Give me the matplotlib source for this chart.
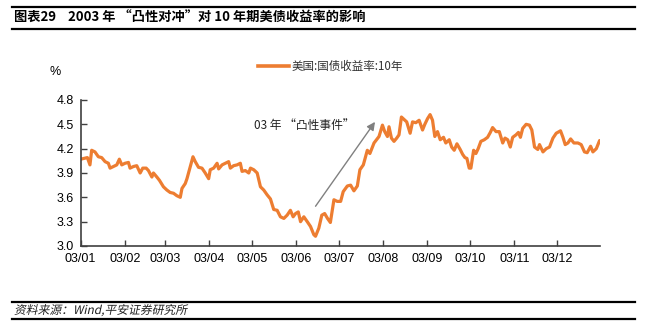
import numpy as np
import pandas as pd
import matplotlib
matplotlib.use("Agg")
import matplotlib.pyplot as plt
from matplotlib.lines import Line2D
from matplotlib.textpath import TextPath
from matplotlib.patches import PathPatch
from matplotlib.font_manager import FontProperties
from matplotlib.transforms import Affine2D, IdentityTransform

plt.rcParams["font.family"] = ["Noto Sans CJK SC", "DejaVu Sans"]

# 10Y US Treasury yield in 2003; day = days since 2003-01-01
day = [0, 4.7, 6.5, 7.7, 10, 12.4, 14.7, 17.1, 19.4, 20.6, 22.9, 25.3, 27.1,
       28.8, 31.1, 33.5, 34.6, 37, 39.3, 41.7, 43.5, 45.9, 47.5, 49.9, 51,
       53.4, 55.2, 58, 60.4, 62.7, 65.1, 67.4, 69.8, 71, 73.3, 74.5, 76.8,
       78.7, 80.3, 82.6, 85, 87.3, 89.7, 90.8, 93.2, 95.6, 96.7, 99.1, 101.4,
       103.7, 104.9, 107.2, 109.6, 111.9, 113.1, 115.4, 117.8, 119, 121.3,
       123.7, 126, 128.3, 130.7, 133, 135.3, 137.7, 140, 142.4, 144.7, 147,
       148.9, 150.6, 152.5, 154.1, 156.4, 158.8, 161.1, 163.4, 164.6, 166.9,
       169, 171, 173, 175, 177.5, 179.8, 182.2, 184, 186.9, 189.2, 191.5,
       193.9, 195.7, 198.1, 200.9, 202.7, 205.6, 209.1, 211.5, 213.1, 215,
       216.1, 217.8, 219.6, 221.5, 223.1, 224.8, 226.7, 228.5, 230.9, 232.6,
       234.9, 237.2, 239.6, 241.2, 243.1, 244.9, 246.6, 248.2, 250.1, 252,
       254.3, 255.9, 258.3, 260, 261.8, 263.7, 266, 267.7, 269.3, 270.7,
       272.3, 273.5, 275.4, 277, 278.6, 280.5, 282.9, 285.2, 287.1, 288.7,
       291.1, 293.4, 295.8, 297.4, 299.3, 301.1, 302.8, 305.1, 306.8, 308.2,
       309.8, 312.2, 314.5, 316.2, 318.1, 320.4, 321.6, 324, 326.3, 328.6,
       331, 333.3, 336.3, 338, 339.6, 341.5, 343.4, 345.7, 348.5, 350.8,
       353.1, 355, 357.4, 359, 361.4, 363.7, 366]
yld = [4.07, 4.09, 4.00, 4.18, 4.16, 4.10, 4.09, 4.04, 4.02, 3.96, 3.98, 4.00,
       4.07, 4.00, 4.02, 4.03, 3.96, 3.98, 3.99, 3.90, 3.96, 3.96, 3.93, 3.85,
       3.90, 3.85, 3.81, 3.73, 3.69, 3.66, 3.65, 3.62, 3.60, 3.71, 3.77, 3.83,
       3.98, 4.10, 4.04, 3.97, 3.96, 3.90, 3.83, 3.94, 3.96, 4.02, 3.95, 4.00,
       4.02, 4.04, 3.96, 3.99, 4.00, 4.02, 3.92, 3.93, 3.90, 3.96, 3.94, 3.90,
       3.73, 3.69, 3.63, 3.58, 3.45, 3.44, 3.36, 3.34, 3.38, 3.44, 3.36, 3.40,
       3.42, 3.30, 3.36, 3.30, 3.24, 3.14, 3.12, 3.22, 3.38, 3.40, 3.34, 3.29,
       3.57, 3.55, 3.55, 3.67, 3.74, 3.75, 3.68, 3.74, 3.94, 4.00, 4.18, 4.14,
       4.27, 4.35, 4.49, 4.41, 4.35, 4.47, 4.33, 4.29, 4.33, 4.37, 4.59, 4.56,
       4.53, 4.39, 4.53, 4.52, 4.55, 4.43, 4.50, 4.57, 4.62, 4.55, 4.35, 4.41,
       4.31, 4.34, 4.27, 4.31, 4.22, 4.18, 4.26, 4.19, 4.13, 4.09, 4.08, 3.96,
       3.96, 4.18, 4.14, 4.20, 4.29, 4.31, 4.34, 4.40, 4.46, 4.41, 4.41, 4.27,
       4.33, 4.31, 4.22, 4.34, 4.37, 4.40, 4.34, 4.45, 4.50, 4.49, 4.43, 4.22,
       4.19, 4.25, 4.16, 4.20, 4.22, 4.33, 4.39, 4.42, 4.34, 4.25, 4.27, 4.32,
       4.27, 4.27, 4.25, 4.16, 4.15, 4.23, 4.16, 4.20, 4.30, 4.27]

month_labels = ["03/01", "03/02", "03/03", "03/04", "03/05", "03/06",
                "03/07", "03/08", "03/09", "03/10", "03/11", "03/12"]
y_ticks = [3.0, 3.3, 3.6, 3.9, 4.2, 4.5, 4.8]

start = pd.Timestamp("2003-01-01")
dates = start + pd.to_timedelta(day, unit="D")
month_starts = pd.date_range("2003-01-01", periods=12, freq="MS")

orange = "#ED7D31"
W, H = 647, 326

fig = plt.figure(figsize=(6.47, 3.26), dpi=100)
ax = fig.add_axes([0.1247, 0.2454, 0.8027, 0.4479])

ax.plot(dates, yld, color=orange, lw=2.3, solid_joinstyle="round")

ax.set_xlim(start, pd.Timestamp("2003-12-31"))
ax.set_ylim(3.0, 4.8)
ax.set_yticks(y_ticks)
ax.set_yticklabels([f"{v:.1f}" for v in y_ticks])
ax.set_xticks(month_starts)
ax.set_xticklabels(month_labels)

for s in ("top", "right"):
    ax.spines[s].set_visible(False)
for s in ("left", "bottom"):
    ax.spines[s].set_color("#404040")
    ax.spines[s].set_linewidth(1.2)
ax.tick_params(direction="in", length=4, width=1, color="#404040",
               labelsize=9, labelcolor="black", pad=5)
for lab in ax.get_xticklabels() + ax.get_yticklabels():
    lab.set_family(["Liberation Sans", "DejaVu Sans"])

# unit label and legend
fig.text(50 / W, 1 - 72 / H, "%", fontsize=9, va="center",
         family=["Liberation Sans", "DejaVu Sans"])
fig.add_artist(Line2D([258 / W, 289 / W], [1 - 66 / H] * 2,
                      color=orange, lw=2.6, transform=fig.transFigure))
fig.text(292 / W, 1 - 66 / H, "美国:国债收益率:10年", fontsize=8.3,
         va="center", color="#333333")

# annotation arrow
ax.annotate("", xy=(start + pd.Timedelta(days=206.3), 4.53),
            xytext=(start + pd.Timedelta(days=164.6), 3.49),
            arrowprops=dict(arrowstyle="-|>", color="#808080", lw=1.0,
                            mutation_scale=12, shrinkA=0, shrinkB=0))
fig.text(254 / W, 1 - 126 / H, "03 年 “凸性事件”", fontsize=8.5,
         va="center", color="#222222")

# title and source with rules
for yy in (6.7, 28.5, 302, 318.5):
    fig.add_artist(Line2D([12 / W, 635 / W], [1 - yy / H] * 2,
                          color="black", lw=1.6, transform=fig.transFigure))
fig.text(14 / W, 1 - 17.5 / H,
         "图表29    2003 年 “凸性对冲”对 10 年期美债收益率的影响",
         fontsize=9.5, fontweight="bold", va="center")

# source line: the CJK font has no italic, so slant the glyph outlines
src_path = TextPath((0, 0), "资料来源：Wind,平安证券研究所",
                    size=8.5 * 100 / 72,
                    prop=FontProperties(family="Noto Sans CJK SC"))
src_path = Affine2D().skew_deg(12, 0).translate(14, H - 314).transform_path(src_path)
fig.add_artist(PathPatch(src_path, transform=IdentityTransform(),
                         facecolor="#222222", edgecolor="none"))

fig.savefig("out.png", dpi=100)
